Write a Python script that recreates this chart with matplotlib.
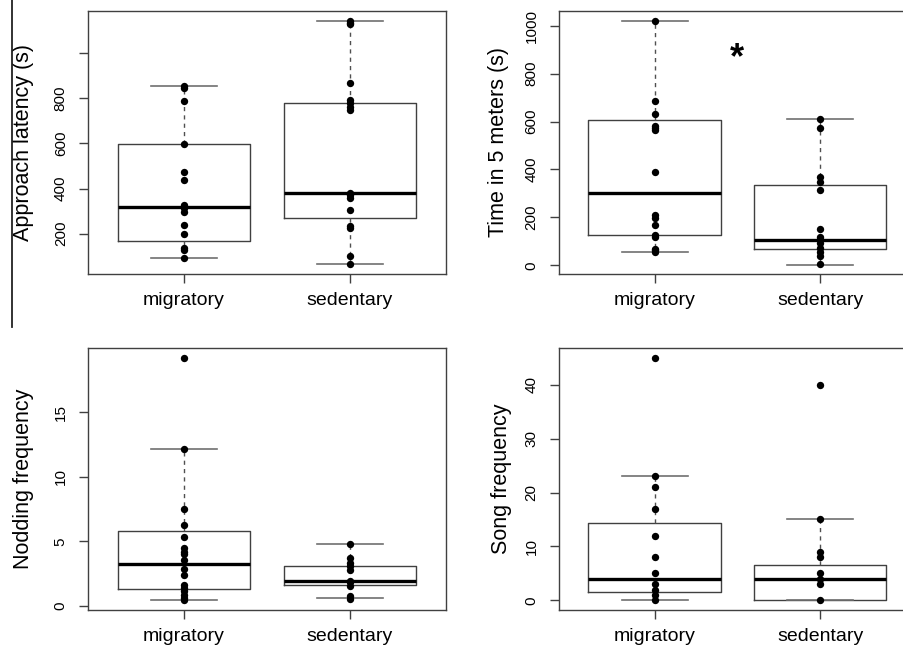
import matplotlib
matplotlib.use("Agg")
import matplotlib.pyplot as plt
from matplotlib.lines import Line2D

plt.rcParams["font.family"] = ["Liberation Sans", "DejaVu Sans"]

groups = ["migratory", "sedentary"]

# approach latency (s)
lat_mig = [855, 845, 788, 597, 474, 438, 325, 315, 298, 238, 199, 135, 128, 94]
lat_sed = [1140, 1133, 1127, 865, 790, 777, 760, 748, 381, 371, 357, 305, 234, 225, 101, 65]
lat_box = [(94, 170, 320, 597, 855), (65, 268, 378, 776, 1142)]

# time in 5 meters (s)
time_mig = [1018, 687, 632, 583, 573, 565, 388, 210, 196, 168, 125, 119, 70, 62, 54]
time_sed = [611, 573, 370, 349, 314, 150, 119, 108, 92, 71, 57, 39, 4]
time_box = [(54, 125, 301, 608, 1021), (3, 67, 106, 334, 612)]

# nodding frequency
nod_mig = [19.25, 12.14, 7.5, 6.29, 5.36, 4.46, 4.2, 4.05, 3.56, 2.84, 2.4,
           1.62, 1.37, 1.11, 0.85, 0.6, 0.42]
nod_sed = [4.82, 3.74, 3.35, 3.09, 2.79, 1.96, 1.81, 1.5, 0.73, 0.55]
nod_box = [(0.44, 1.31, 3.25, 5.82, 12.14), (0.57, 1.65, 1.96, 3.07, 4.82)]

# song frequency
song_mig = [45, 23, 21, 17, 12, 8, 5, 3, 2, 1, 0]
song_sed = [40, 15, 9, 8, 5, 4, 3, 0]
song_box = [(0, 1.5, 4, 14.4, 23), (0, 0, 4, 6.5, 15)]

panels = [
    dict(pos=[0.0973, 0.5772, 0.3961, 0.4058], mig=lat_mig, sed=lat_sed, box=lat_box,
         ylim=(22, 1185), yticks=[200, 400, 600, 800, 1000],
         yticklabels=["200", "400", "600", "800", ""],
         ylabel="Approach latency (s)", lx=-0.151),
    dict(pos=[0.618, 0.5772, 0.3953, 0.4058], mig=time_mig, sed=time_sed, box=time_box,
         ylim=(-36, 1061), yticks=[0, 200, 400, 600, 800, 1000],
         yticklabels=["0", "200", "400", "600", "800", "1000"],
         ylabel="Time in 5 meters (s)", lx=-0.139),
    dict(pos=[0.0973, 0.0586, 0.3961, 0.4043], mig=nod_mig, sed=nod_sed, box=nod_box,
         ylim=(-0.33, 20.0), yticks=[0, 5, 10, 15],
         yticklabels=["0", "5", "10", "15"],
         ylabel="Nodding frequency", lx=-0.151),
    dict(pos=[0.618, 0.0586, 0.3953, 0.4043], mig=song_mig, sed=song_sed, box=song_box,
         ylim=(-1.8, 46.8), yticks=[0, 10, 20, 30, 40],
         yticklabels=["0", "10", "20", "30", "40"],
         ylabel="Song frequency", lx=-0.131),
]

fig = plt.figure(figsize=(9.04, 6.48), dpi=100)
frame_col = "#404040"

axes = []
for p in panels:
    ax = fig.add_axes(p["pos"])
    stats = []
    for lo, q1, med, q3, hi in p["box"]:
        stats.append(dict(whislo=lo, q1=q1, med=med, q3=q3, whishi=hi, fliers=[]))
    ax.bxp(stats, positions=[1, 2], widths=0.8, capwidths=0.4, showfliers=False,
           boxprops=dict(color=frame_col, lw=1.0),
           whiskerprops=dict(color="#505050", lw=1.0, linestyle=(0, (3, 3))),
           capprops=dict(color="#707070", lw=1.2),
           medianprops=dict(color="black", lw=2.4))
    ax.scatter([1] * len(p["mig"]), p["mig"], s=28, color="black", zorder=3, linewidths=0)
    ax.scatter([2] * len(p["sed"]), p["sed"], s=28, color="black", zorder=3, linewidths=0)

    ax.set_xlim(0.42, 2.58)
    ax.set_ylim(*p["ylim"])
    ax.set_xticks([1, 2])
    ax.set_xticklabels(groups, fontsize=14)
    ax.set_yticks(p["yticks"])
    ax.set_yticklabels(p["yticklabels"], fontsize=11, rotation=90, va="center")
    ax.tick_params(axis="both", direction="out", length=6.5, width=1.0, color=frame_col)
    ax.tick_params(axis="x", pad=6.5)
    ax.tick_params(axis="y", pad=8)
    for s in ax.spines.values():
        s.set_color(frame_col)
        s.set_linewidth(1.0)
    ax.set_ylabel(p["ylabel"], fontsize=15.5)
    ax.yaxis.set_label_coords(p["lx"], 0.5)
    axes.append(ax)

axes[1].text(1.5, 862, "*", fontsize=26, fontweight="bold", ha="center", va="center")

# stray vertical rule at left edge of the top row
fig.add_artist(Line2D([12 / 904, 12 / 904], [1.0, 1 - 327 / 648],
                      transform=fig.transFigure, color="#222222", lw=1.3))

fig.savefig("out.png", dpi=100)
